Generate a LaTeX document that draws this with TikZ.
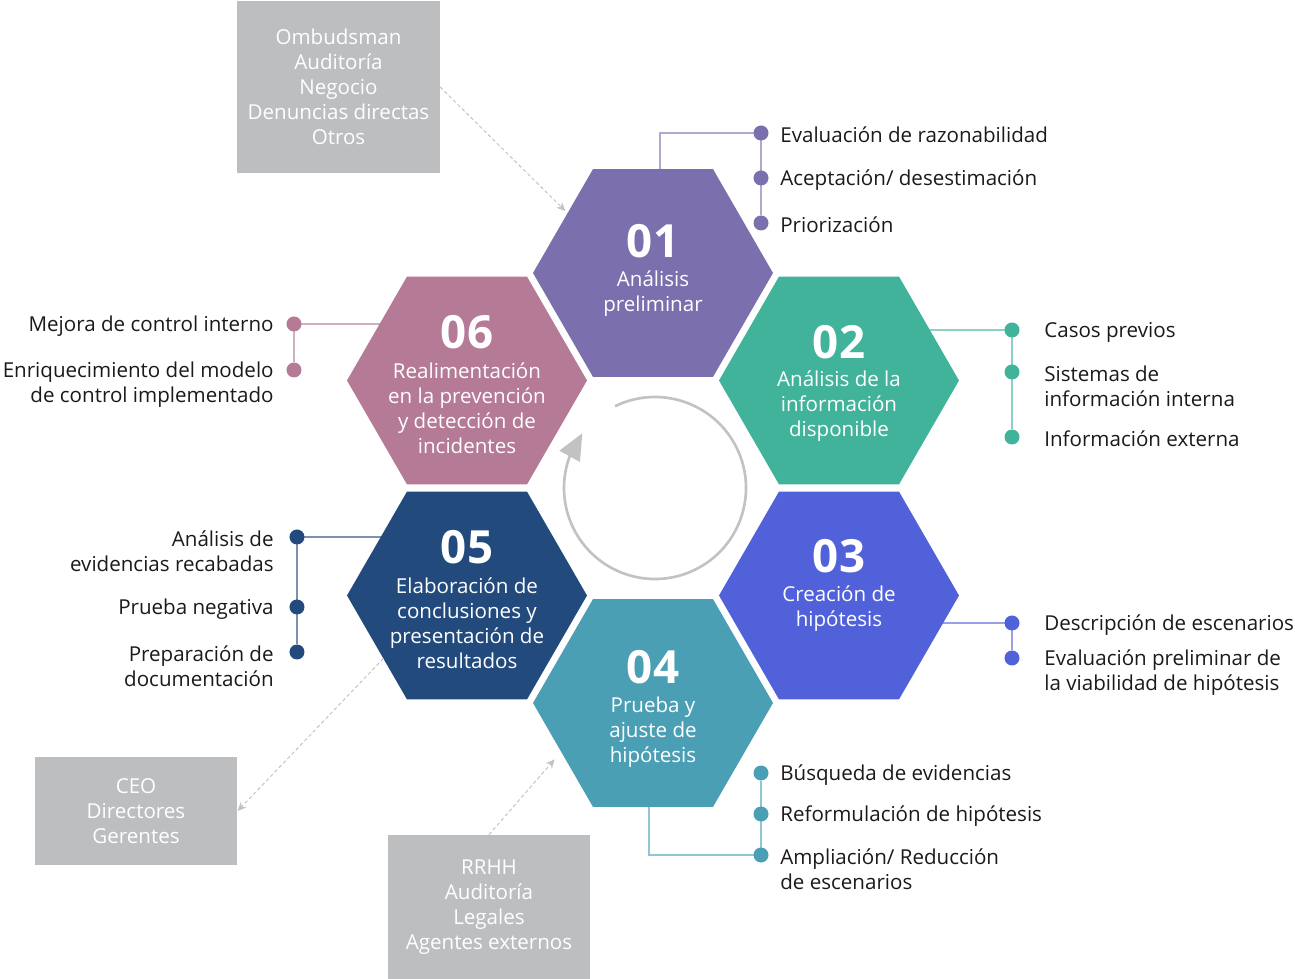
\documentclass[tikz,border=0pt]{standalone}
\usepackage{fontspec}
\setmainfont{Open Sans}
\usepackage{tikz}
\usetikzlibrary{calc}
\usetikzlibrary{positioning}
\usetikzlibrary{shapes}
\usetikzlibrary{arrows.meta}
\usetikzlibrary{bending}
\usetikzlibrary{backgrounds}

\definecolor{cuno}{HTML}{7B70AD}
\definecolor{cdos}{HTML}{41B39B}
\definecolor{ctres}{HTML}{5161DA}
\definecolor{ccuatro}{HTML}{4A9FB5}
\definecolor{ccinco}{HTML}{224A7D}
\definecolor{cseis}{HTML}{B47A96}
\definecolor{gris}{HTML}{BDBEC0}
\definecolor{grisclaro}{HTML}{C2C2C4}
\definecolor{texto}{HTML}{1A1A1A}

\begin{document}
\begin{tikzpicture}[
		hex/.style={regular polygon, regular polygon sides=6, minimum size=4.8cm, inner sep=0pt, outer sep=0pt, fill=#1},
		num/.style={text=white, font=\fontsize{26}{26}\selectfont\bfseries, inner sep=0pt},
		hextxt/.style={text=white, align=center, font=\fontsize{11.7}{14.2}\selectfont, inner sep=0pt},
		dot/.style={circle, fill=#1, minimum size=0.3cm, inner sep=0pt, outer sep=0pt},
		item/.style={text=texto, font=\fontsize{11.7}{14.2}\selectfont, inner sep=0pt, yshift=-0.04cm},
		link/.style={draw=#1!60!white, line width=0.85pt},
		src/.style={fill=gris, text=white, align=center, font=\fontsize{11.7}{14.2}\selectfont, minimum width=4.05cm, inner sep=0pt},
		srcarrow/.style={draw=grisclaro, line width=0.55pt, dash pattern=on 2pt off 1.5pt, -{Stealth[length=5pt,width=4.5pt]}}
	]
			\useasboundingbox (-13.06,-9.82) rectangle (12.84,9.76);

			\node[hex=cuno] (h1) at (0,4.3) {};
			\node[hex=cdos] (h2) at (3.72,2.15) {};
			\node[hex=ctres] (h3) at (3.72,-2.15) {};
			\node[hex=ccuatro] (h4) at (0,-4.3) {};
			\node[hex=ccinco] (h5) at (-3.72,-2.15) {};
			\node[hex=cseis] (h6) at (-3.72,2.15) {};

			\node[num] (n1) at (0,4.94) {01};
			\node[hextxt] (l1) at (0,3.89) {Análisis\\preliminar};
			\node[num] (n2) at (3.72,2.91) {02};
			\node[hextxt] (l2) at (3.72,1.64) {Análisis de la\\información\\disponible};
			\node[num] (n3) at (3.72,-1.37) {03};
			\node[hextxt] (l3) at (3.72,-2.41) {Creación de\\hipótesis};
			\node[num] (n4) at (0,-3.59) {04};
			\node[hextxt] (l4) at (0,-4.88) {Prueba y\\ajuste de\\hipótesis};
			\node[num] (n5) at (-3.72,-1.19) {05};
			\node[hextxt] (l5) at (-3.72,-2.71) {Elaboración de\\conclusiones y\\presentación de\\resultados};
			\node[num] (n6) at (-3.72,3.11) {06};
			\node[hextxt] (l6) at (-3.72,1.59) {Realimentación\\en la prevención\\y detección de\\incidentes};

			\node[dot=cuno] (d11) at (2.16,7.1) {};
			\node[dot=cuno] (d12) at (2.16,6.2) {};
			\node[dot=cuno] (d13) at (2.16,5.3) {};
			\node[item, right=0.23cm of d11] (t11) {Evaluación de razonabilidad};
			\node[item, right=0.23cm of d12] (t12) {Aceptación/ desestimación};
			\node[item, right=0.23cm of d13] (t13) {Priorización};

			\node[dot=cdos] (d21) at (7.18,3.16) {};
			\node[dot=cdos] (d22) at (7.18,2.32) {};
			\node[dot=cdos] (d23) at (7.18,1.02) {};
			\node[item, right=0.49cm of d21] (t21) {Casos previos};
			\node[item, align=left, right=0.49cm of d22, yshift=-0.25cm] (t22) {Sistemas de\\información interna};
			\node[item, right=0.49cm of d23] (t23) {Información externa};

			\node[dot=ctres] (d31) at (7.18,-2.7) {};
			\node[dot=ctres] (d32) at (7.18,-3.4) {};
			\node[item, right=0.49cm of d31] (t31) {Descripción de escenarios};
			\node[item, align=left, right=0.49cm of d32, yshift=-0.25cm] (t32) {Evaluación preliminar de\\la viabilidad de hipótesis};

			\node[dot=ccuatro] (d41) at (2.16,-5.7) {};
			\node[dot=ccuatro] (d42) at (2.16,-6.52) {};
			\node[dot=ccuatro] (d43) at (2.16,-7.34) {};
			\node[item, right=0.23cm of d41] (t41) {Búsqueda de evidencias};
			\node[item, right=0.23cm of d42] (t42) {Reformulación de hipótesis};
			\node[item, align=left, right=0.23cm of d43, yshift=-0.25cm] (t43) {Ampliación/ Reducción\\de escenarios};

			\node[dot=ccinco] (d51) at (-7.12,-0.98) {};
			\node[dot=ccinco] (d52) at (-7.12,-2.38) {};
			\node[dot=ccinco] (d53) at (-7.12,-3.28) {};
			\node[item, align=right, left=0.31cm of d51, yshift=-0.25cm] (t51) {Análisis de\\evidencias recabadas};
			\node[item, left=0.31cm of d52] (t52) {Prueba negativa};
			\node[item, align=right, left=0.31cm of d53, yshift=-0.25cm] (t53) {Preparación de\\documentación};

			\node[dot=cseis] (d61) at (-7.18,3.28) {};
			\node[dot=cseis] (d62) at (-7.18,2.36) {};
			\node[item, left=0.25cm of d61] (t61) {Mejora de control interno};
			\node[item, align=right, left=0.25cm of d62, yshift=-0.25cm] (t62) {Enriquecimiento del modelo\\de control implementado};

			\begin{pgfonlayer}{background}
				\path[link=cuno] ([xshift=0.14cm]h1.center) |- (d11);
				\path[link=cuno] (d11) -- (d13);
				\path[link=cdos] (d21 -| h2) -- (d21);
				\path[link=cdos] (d21) -- (d23);
				\path[link=ctres] (d31 -| h3) -- (d31);
				\path[link=ctres] (d31) -- (d32);
				\path[link=ccuatro] ([xshift=-0.08cm]h4.center) |- (d43);
				\path[link=ccuatro] (d41) -- (d43);
				\path[link=ccinco] (d51 -| h5) -- (d51);
				\path[link=ccinco] (d51) -- (d53);
				\path[link=cseis] (d61 -| h6) -- (d61);
				\path[link=cseis] (d61) -- (d62);
			\end{pgfonlayer}

			\node[src, minimum height=3.44cm] (bA) at (-6.29,8.02) {Ombudsman\\Auditoría\\Negocio\\Denuncias directas\\Otros};
			\node[src, minimum height=2.16cm] (bB) at (-10.34,-6.46) {CEO\\Directores\\Gerentes};
			\node[src, minimum height=2.88cm] (bC) at (-3.28,-8.38) {RRHH\\Auditoría\\Legales\\Agentes externos};

			\path[srcarrow, shorten >=0.06cm] (bA.east) -- (h1.145);
			\path[srcarrow] (h5.217) -- (bB.east);
			\path[srcarrow, shorten >=0.2cm] (bC.north) -- (h4.208);

			\coordinate (eje) at (0.04,0);
			\path[draw=grisclaro, line width=1.5pt, -{Triangle[length=15pt,width=13pt]}] (eje) ++(116:1.82) arc[start angle=116, end angle=-217, radius=1.82];
        \end{tikzpicture}
\end{document}
